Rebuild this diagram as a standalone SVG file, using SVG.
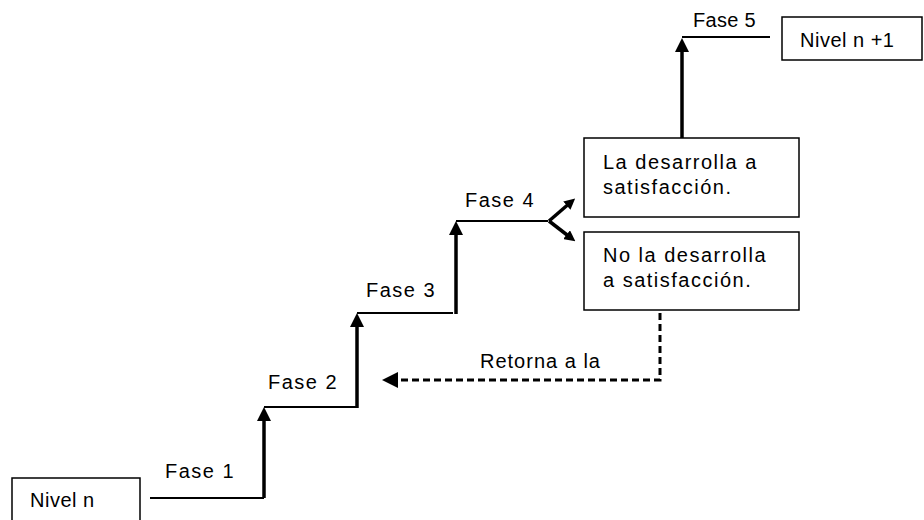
<svg xmlns="http://www.w3.org/2000/svg" width="924" height="520" viewBox="0 0 924 520">
<defs>
<marker id="ah" markerWidth="14" markerHeight="14" refX="7" refY="7" orient="auto" markerUnits="userSpaceOnUse" viewBox="0 0 14 14"><path d="M0,0 L14,7 L0,14 z" fill="#000"/></marker>
<marker id="ahs" markerWidth="11" markerHeight="11" refX="5.5" refY="5.5" orient="auto" markerUnits="userSpaceOnUse" viewBox="0 0 11 11"><path d="M0,0 L11,5.5 L0,11 z" fill="#000"/></marker>
</defs>
<style>
text{font-family:"Liberation Sans",Arial,sans-serif;font-size:20px;letter-spacing:1.5px;fill:#000}
.box{fill:#fff;stroke:#000;stroke-width:1.5}
.thin{stroke:#000;stroke-width:2;fill:none}
.thick{stroke:#000;stroke-width:3.5;fill:none}
.dash{stroke:#000;stroke-width:3;fill:none;stroke-dasharray:7,4}
</style>
<rect width="924" height="520" fill="#fff"/>
<g id="nivel-n"><rect class="box" x="12" y="478" width="128" height="50"/><text x="30" y="507" style="letter-spacing:0.5px">Nivel n</text></g>
<g id="nivel-n1"><rect class="box" x="782" y="17" width="140" height="43"/><text x="800" y="47" style="letter-spacing:0.5px">Nivel n +1</text></g>
<g id="box-si"><rect class="box" x="584" y="138" width="215" height="79"/><text x="603" y="169">La desarrolla a</text><text x="603" y="194">satisfacción.</text></g>
<g id="box-no"><rect class="box" x="584" y="232" width="215" height="78"/><text x="603" y="262">No la desarrolla</text><text x="603" y="287">a satisfacción.</text></g>
<g id="labels">
<text x="165" y="478">Fase 1</text>
<text x="268" y="389">Fase 2</text>
<text x="366" y="297">Fase 3</text>
<text x="465" y="207">Fase 4</text>
<text x="693" y="27" style="letter-spacing:0.3px">Fase 5</text>
<text x="480" y="368" style="letter-spacing:1px">Retorna a la</text>
</g>
<g id="connectors">
<polyline class="thin" points="150,498 264,498"/>
<line class="thick" x1="264" y1="498" x2="264" y2="414" marker-end="url(#ah)"/>
<polyline class="thin" points="264,407 357,407"/>
<line class="thick" x1="357" y1="408" x2="357" y2="320" marker-end="url(#ah)"/>
<polyline class="thin" points="357,313 453,313"/>
<line class="thick" x1="456" y1="314" x2="456" y2="228" marker-end="url(#ah)"/>
<polyline class="thin" points="456,221 548,221"/>
<line class="thick" x1="549" y1="221" x2="571" y2="202" marker-end="url(#ahs)"/>
<line class="thick" x1="549" y1="221" x2="571" y2="238" marker-end="url(#ahs)"/>
<line class="thick" x1="682" y1="138" x2="682" y2="45" marker-end="url(#ah)"/>
<polyline class="thin" points="682,37 770,37"/>
<polyline class="dash" points="660,313 660,380 394,380"/>
<path d="M382,380 L398,372 L398,388 z" fill="#000"/>
</g>
</svg>
